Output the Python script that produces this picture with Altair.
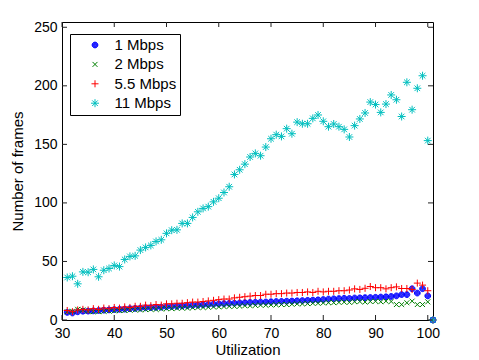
import altair as alt
import pandas as pd

# ---- data ----
util = list(range(31, 102))

mbps_1 = [6.5, 6, 7, 7.5, 7.6, 7.8, 8.1, 8.4, 8.6, 8.9,
          9.1, 9.3, 9.7, 9.9, 10.2, 10.4, 10.6, 10.8, 11, 11.3,
          11.5, 11.7, 12, 12.2, 12.5, 12.7, 13, 13.2, 13.5, 13.8,
          14, 14.2, 14.4, 14.6, 14.8, 15, 15.1, 15.3, 15.4, 15.6,
          15.8, 15.9, 16.1, 16.2, 16.4, 16.6, 16.8, 17, 17.2, 17.5,
          17.9, 18.1, 18.3, 18.5, 18.4, 18.8, 18.9, 19.1, 19.2, 19.4,
          19.6, 19.8, 20.1, 20.6, 21.7, 21.7, 26.7, 23, 26.7, 20.6, 0]

mbps_2 = [7, 7.5, 9.1, 8.6, 7.5, 7.1, 7.1, 7.5, 7.6, 7.8,
          8.1, 8.1, 8.4, 8.6, 8.6, 8.9, 9.1, 9.1, 9.4, 9.7,
          9.7, 10, 10.2, 10.2, 10.5, 10.7, 10.7, 10.9, 11.2, 11.2,
          11.5, 11.7, 11.7, 11.9, 12.2, 12.2, 12.5, 12.7, 12.7, 12.9,
          13, 13.2, 13.2, 13.5, 13.8, 13.8, 14, 14.3, 14.3, 14.6,
          14.8, 14.8, 15.1, 15.3, 15.1, 15.6, 15.8, 15.3, 15.8, 16,
          15.6, 16.1, 15.8, 13.2, 13.2, 14.7, 16.1, 13.2, 13.2, 15.5, 0]

mbps_55 = [8.1, 7.1, 8.6, 9.1, 8.6, 9.7, 9.1, 10.2, 9.7, 10.7,
           10.2, 11.2, 10.7, 11.7, 11.7, 12.7, 12.2, 13.2, 12.7, 13.8,
           13.8, 14.3, 14.3, 14.8, 15.3, 15.3, 15.8, 16.3, 16.8, 17.4,
           17.9, 17.9, 18.9, 19.4, 19.9, 20.4, 20.9, 20.9, 22, 22,
           22.5, 22.5, 23, 23, 23.5, 23.5, 24, 23.5, 24.5, 24,
           24.5, 24.5, 25, 25, 25.6, 26.6, 26.1, 27.1, 28.6, 27.6,
           27.6, 26.6, 27.6, 28.3, 26.9, 26.9, 26.1, 31.5, 29.8, 25, 0]

mbps_11 = [36.3, 37.4, 30.9, 41.1, 40.8, 43.2, 36.9, 42.5, 44.0, 46.6,
           45.6, 51.7, 54.3, 54.8, 59.7, 62.0, 63.7, 67.1, 68.5, 74.0,
           76.7, 77.0, 82.5, 82.5, 87.6, 92.4, 95.3, 96.8, 100.9, 104.0,
           108.9, 113.8, 124.3, 128.3, 133.1, 139.2, 142.3, 140.3, 147.7, 154.8,
           158.3, 156.8, 163.4, 159.1, 169.0, 167.6, 167.6, 172.2, 175.1, 169.7,
           165.1, 167.4, 165.1, 162.8, 156.3, 166.0, 171.7, 176.8, 186.1, 184.0,
           177.3, 184.4, 192.2, 188.1, 173.8, 203.0, 179.6, 197.9, 208.6, 153.2, 0]

series_names = ["1 Mbps", "2 Mbps", "5.5 Mbps", "11 Mbps"]
series_colors = ["#0000ff", "#008000", "#ff0000", "#00bfbf"]


def ring(r):
    return f"M{-r},0A{r},{r},0,1,0,{r},0A{r},{r},0,1,0,{-r},0Z"


DOT = "".join(ring(r) for r in (0.72, 0.56, 0.40, 0.24, 0.08))
XMARK = "M-0.62,-0.62L0.62,0.62M-0.62,0.62L0.62,-0.62"
PLUS = "M-0.88,0L0.88,0M0,-0.88L0,0.88"
STAR = "M-1,0L1,0M0,-1L0,1M-0.7,-0.7L0.7,0.7M-0.7,0.7L0.7,-0.7"
series_shapes = [DOT, XMARK, PLUS, STAR]

x_ticks = [30, 40, 50, 60, 70, 80, 90, 100]
y_ticks = [0, 50, 100, 150, 200, 250]

W, H = 371, 298
FONT = "Liberation Sans"

rows = []
for name, vals in zip(series_names, [mbps_1, mbps_2, mbps_55, mbps_11]):
    for u, v in zip(util, vals):
        rows.append({"util": u, "frames": v, "series": name})
df = pd.DataFrame(rows)

xscale = alt.Scale(domain=[30, 101], nice=False, zero=False)
yscale = alt.Scale(domain=[0, 254.5], nice=False, zero=False)
xaxis = alt.Axis(values=x_ticks, title="Utilization", ticks=False,
                 labelFlush=False, labelPadding=6, titlePadding=2, grid=False)
yaxis = alt.Axis(values=y_ticks, title="Number of frames", ticks=False,
                 labelFlush=False, labelPadding=5, titlePadding=8, grid=False)

points = alt.Chart(df).mark_point(filled=False, strokeWidth=1, opacity=1, size=64).encode(
    x=alt.X("util:Q", scale=xscale, axis=xaxis),
    y=alt.Y("frames:Q", scale=yscale, axis=yaxis),
    color=alt.Color("series:N", sort=series_names,
                    scale=alt.Scale(domain=series_names, range=series_colors),
                    legend=alt.Legend(title=None)),
    shape=alt.Shape("series:N", sort=series_names,
                    scale=alt.Scale(domain=series_names, range=series_shapes),
                    legend=alt.Legend(title=None)),
)

xt = pd.DataFrame({"t": x_ticks})
yt = pd.DataFrame({"t": y_ticks})
tick_color = "#222222"

bottom_ticks = alt.Chart(xt).mark_rule(color=tick_color, strokeWidth=1).encode(
    x=alt.X("t:Q", scale=xscale, axis=xaxis), y=alt.value(H), y2=alt.value(H - 5))
top_ticks = alt.Chart(xt).mark_rule(color=tick_color, strokeWidth=1).encode(
    x=alt.X("t:Q", scale=xscale, axis=xaxis), y=alt.value(0), y2=alt.value(5))
left_ticks = alt.Chart(yt).mark_rule(color=tick_color, strokeWidth=1).encode(
    y=alt.Y("t:Q", scale=yscale, axis=yaxis), x=alt.value(0), x2=alt.value(5))
right_ticks = alt.Chart(yt).mark_rule(color=tick_color, strokeWidth=1).encode(
    y=alt.Y("t:Q", scale=yscale, axis=yaxis), x=alt.value(W - 5), x2=alt.value(W))

chart = alt.layer(points, bottom_ticks, top_ticks, left_ticks, right_ticks).properties(
    width=W, height=H,
    padding={"left": 54, "top": 14, "right": 30, "bottom": 40},
    autosize=alt.AutoSizeParams(type="none"),
    background="white",
).configure_view(
    stroke="black", strokeWidth=1
).configure_axis(
    labelFont=FONT, titleFont=FONT, labelFontSize=14, titleFontSize=15,
    titleFontWeight="normal", labelColor="black", titleColor="black",
    domainColor="black", domainWidth=1,
).configure_legend(
    orient="none", legendX=8, legendY=12,
    fillColor="white", strokeColor="black", padding=3.5,
    labelFont=FONT, labelFontSize=15, labelColor="black",
    symbolSize=64, symbolStrokeWidth=1, symbolOffset=14, labelOffset=12,
    rowPadding=3.4, cornerRadius=0,
)

chart.save("out.html", embed_options={"renderer": "svg", "actions": False})
